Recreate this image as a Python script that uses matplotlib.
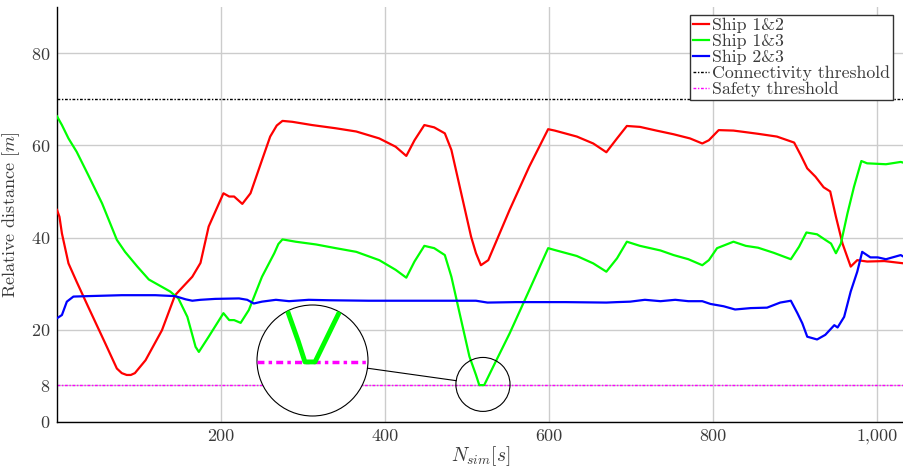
import matplotlib
matplotlib.use("Agg")
import matplotlib.pyplot as plt
import numpy as np
from matplotlib.patches import Circle, Ellipse
from matplotlib.lines import Line2D
from matplotlib.ticker import FuncFormatter

plt.rcParams['font.family'] = 'serif'
plt.rcParams['font.serif'] = ['cmr10', 'DejaVu Serif']
plt.rcParams['mathtext.fontset'] = 'cm'
plt.rcParams['axes.unicode_minus'] = False
plt.rcParams['axes.formatter.use_mathtext'] = True

# Ship 1&2
x12 = [0, 3, 6, 14, 24, 38, 59, 73, 79, 85, 90, 95, 108, 128, 144, 165, 175, 185, 203, 210,
       216, 226, 236, 250, 260, 268, 275, 287, 311, 340, 365, 393, 413, 426, 436, 448, 460,
       473, 481, 493, 505, 511, 517, 526, 552, 576, 599, 607, 634, 654, 670, 683, 695, 711,
       731, 752, 772, 787, 795, 807, 825, 838, 855, 878, 899, 907, 915, 925, 935, 943, 950,
       958, 968, 976, 988, 1009, 1033]
y12 = [46.0, 44.5, 40.9, 34.4, 30.4, 25.0, 17.0, 11.6, 10.6, 10.2, 10.2, 10.6, 13.4, 19.9,
       27.5, 31.5, 34.5, 42.4, 49.6, 48.9, 48.9, 47.3, 49.6, 56.8, 61.9, 64.3, 65.3, 65.1,
       64.4, 63.7, 63.0, 61.5, 59.7, 57.7, 61.1, 64.4, 63.9, 62.6, 59.0, 49.6, 40.2, 36.6,
       34.0, 35.1, 46.0, 55.4, 63.5, 63.2, 61.9, 60.4, 58.5, 61.5, 64.2, 64.0, 63.2, 62.4,
       61.5, 60.4, 61.1, 63.3, 63.2, 62.9, 62.5, 61.9, 60.6, 57.9, 55.0, 53.2, 50.9, 50.0,
       44.5, 38.7, 33.7, 35.1, 34.8, 34.9, 34.4]

# Ship 1&3
x13 = [0, 6, 14, 24, 38, 55, 73, 83, 98, 112, 124, 138, 148, 159, 169, 173, 185, 203, 210,
       216, 224, 234, 250, 265, 270, 275, 291, 316, 340, 365, 393, 413, 426, 436, 448, 460,
       473, 481, 491, 503, 511, 515, 521, 532, 552, 576, 599, 607, 634, 654, 670, 683, 695,
       711, 736, 752, 770, 787, 795, 805, 815, 825, 840, 855, 874, 895, 905, 914, 927, 937,
       944, 950, 956, 964, 972, 981, 988, 1011, 1029, 1033]
y13 = [66.3, 64.4, 61.5, 58.6, 53.6, 47.4, 39.5, 36.9, 33.7, 30.9, 29.7, 28.3, 26.8, 22.8,
       16.3, 15.2, 18.5, 23.6, 22.1, 22.1, 21.5, 24.3, 31.5, 36.6, 38.6, 39.6, 39.1, 38.5,
       37.7, 36.9, 35.1, 33.0, 31.3, 34.8, 38.2, 37.7, 36.2, 31.5, 23.6, 14.2, 10.2, 8.0,
       8.0, 12.0, 19.2, 28.6, 37.7, 37.3, 36.0, 34.4, 32.6, 35.5, 39.1, 38.2, 37.2, 36.2,
       35.3, 34.0, 35.1, 37.7, 38.4, 39.1, 38.2, 37.8, 36.7, 35.3, 38.0, 41.1, 40.7, 39.5,
       38.7, 36.6, 38.7, 45.2, 51.0, 56.6, 56.1, 55.9, 56.4, 56.2]

# Ship 2&3
x23 = [0, 6, 12, 20, 38, 79, 120, 144, 157, 165, 175, 193, 222, 232, 240, 250, 267, 283,
       307, 332, 380, 450, 511, 525, 560, 620, 670, 683, 699, 717, 736, 754, 770, 787, 797,
       813, 827, 846, 866, 882, 895, 903, 909, 915, 927, 937, 948, 952, 960, 968, 976, 982,
       992, 1001, 1011, 1029, 1033]
y23 = [22.5, 23.2, 26.1, 27.2, 27.3, 27.5, 27.5, 27.3, 26.6, 26.3, 26.5, 26.7, 26.8, 26.5,
       25.7, 26.1, 26.5, 26.2, 26.5, 26.4, 26.3, 26.3, 26.3, 25.9, 26.0, 26.0, 25.9, 26.0,
       26.1, 26.5, 26.2, 26.5, 26.2, 26.2, 25.6, 25.1, 24.4, 24.7, 24.8, 25.9, 26.3, 23.6,
       21.4, 18.5, 17.9, 18.9, 21.0, 20.5, 22.8, 28.3, 32.6, 36.9, 35.7, 35.7, 35.3, 36.2,
       35.8]

connectivity = 70
safety = 8
zoom_center = (519.5, 8.15)
zoom_half = (33, 5.85)

fig = plt.figure(figsize=(9.04, 4.70), dpi=100)
ax = fig.add_axes([57 / 904, 48 / 470, 847 / 904, 415 / 470])

ax.plot(x12, y12, color='#ff0000', lw=1.6, label='Ship 1&2', zorder=3)
ax.plot(x13, y13, color='#00ff00', lw=1.6, label='Ship 1&3', zorder=3)
ax.plot(x23, y23, color='#0000ff', lw=1.6, label='Ship 2&3', zorder=3)
ax.axhline(connectivity, color='black', lw=1.0, ls=(0, (2, 1.2, 1, 1.2)),
           label='Connectivity threshold', zorder=2)
ax.axhline(safety, color='#ff00ff', lw=1.0, ls=(0, (2, 1.2, 1, 1.2)),
           label='Safety threshold', zorder=2)

ax.set_xlim(0, 1033)
ax.set_ylim(0, 90)
ax.set_xticks([200, 400, 600, 800, 1000])
ax.set_yticks([0, 8, 20, 40, 60, 80])
ax.xaxis.set_major_formatter(FuncFormatter(lambda v, p: f'{v:,.0f}'))
ax.tick_params(length=0, labelsize=13, labelcolor='#3a3a3a', pad=5)
ax.grid(True, color='#cccccc', lw=1.0)
ax.set_axisbelow(True)
for s in ['top', 'right']:
    ax.spines[s].set_visible(False)
for s in ['left', 'bottom']:
    ax.spines[s].set_linewidth(1.0)

ax.set_xlabel(r'$N_{sim}[s]$', fontsize=14, color='#3a3a3a', labelpad=0)
ax.set_ylabel(r'Relative distance [$m$]', fontsize=13, color='#3a3a3a', labelpad=6)

leg = ax.legend(loc='upper right', bbox_to_anchor=(0.987, 0.98), fontsize=12.8,
                frameon=True, fancybox=False, edgecolor='#333333', framealpha=1,
                handlelength=0.9, handletextpad=0.2, labelspacing=0.02,
                borderpad=0.15, borderaxespad=0)
leg.get_frame().set_linewidth(1.0)
for t in leg.get_texts():
    t.set_color('#3a3a3a')

# zoomed circle inset
ax_in = fig.add_axes([257 / 904, 54 / 470, 111 / 904, 111 / 470])
ax_in.set_xlim(zoom_center[0] - zoom_half[0], zoom_center[0] + zoom_half[0])
ax_in.set_ylim(zoom_center[1] - zoom_half[1], zoom_center[1] + zoom_half[1])
ax_in.axis('off')
circ = Circle((0.5, 0.5), 0.5, transform=ax_in.transAxes, facecolor='white',
              edgecolor='black', lw=0.8, zorder=0)
circ.set_clip_on(False)
ax_in.add_patch(circ)
l1, = ax_in.plot(x13, y13, color='#00ff00', lw=3.5, zorder=3)
l2 = ax_in.axhline(safety, color='#ff00ff', lw=2.5, ls=(0, (2, 1.2, 1, 1.2)), zorder=2)
l1.set_clip_path(circ)
l2.set_clip_path(circ)

ell = Ellipse(zoom_center, 2 * zoom_half[0], 2 * zoom_half[1], facecolor='none',
              edgecolor='black', lw=0.8, zorder=4)
ax.add_patch(ell)

# connector between the circles
fig.canvas.draw()
c1 = np.array(ax_in.transAxes.transform((0.5, 0.5)))
r1 = ax_in.transAxes.transform((1, 0.5))[0] - c1[0]
c2 = np.array(ax.transData.transform(zoom_center))
r2 = ax.transData.transform((zoom_center[0] + zoom_half[0], 0))[0] - c2[0]
u = (c2 - c1) / np.linalg.norm(c2 - c1)
p1 = fig.transFigure.inverted().transform(c1 + r1 * u)
p2 = fig.transFigure.inverted().transform(c2 - r2 * u)
fig.add_artist(Line2D([p1[0], p2[0]], [p1[1], p2[1]], color='black', lw=0.8,
                      transform=fig.transFigure))

fig.savefig('out.png', dpi=100)
